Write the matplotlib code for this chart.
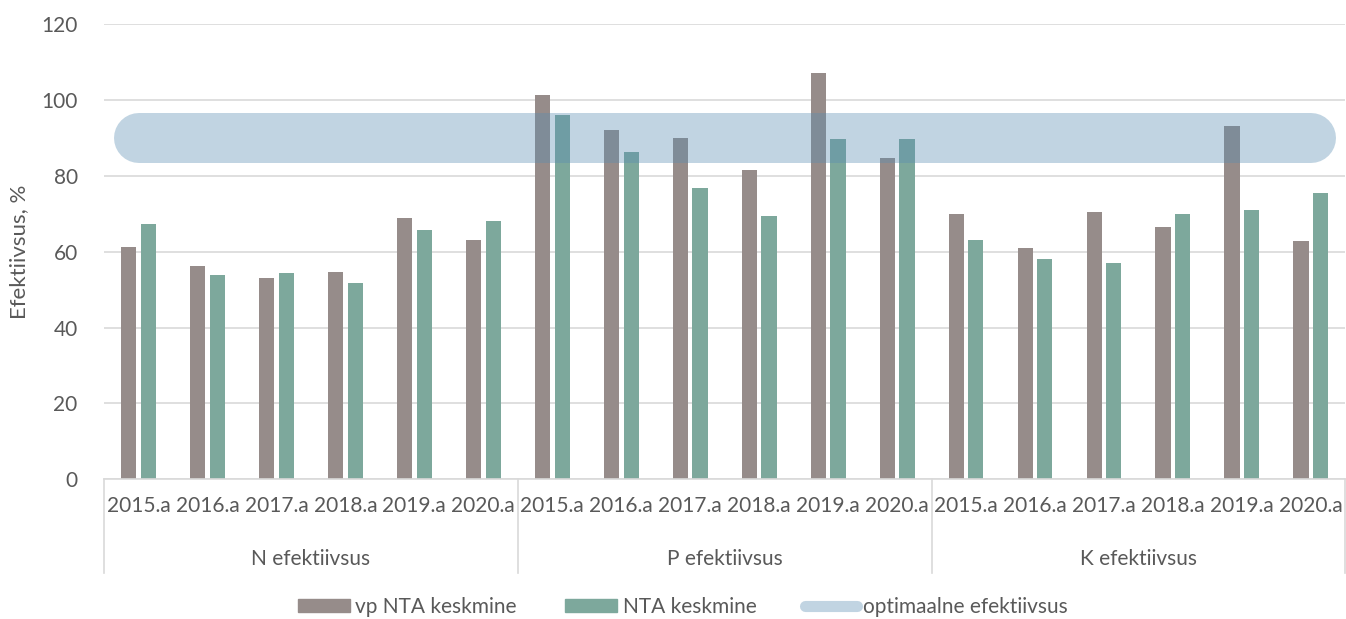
import numpy as np
import matplotlib
matplotlib.use('Agg')
import matplotlib.pyplot as plt
from matplotlib.lines import Line2D
from matplotlib.patches import Patch

plt.rcParams['font.family'] = ['Lato', 'DejaVu Sans']

years = ['2015.a', '2016.a', '2017.a', '2018.a', '2019.a', '2020.a']
groups = ['N efektiivsus', 'P efektiivsus', 'K efektiivsus']

vp_nta = [61.3, 56.2, 53.1, 54.6, 69.0, 63.1,
          101.4, 92.0, 90.0, 81.6, 107.2, 84.7,
          70.0, 61.0, 70.4, 66.4, 93.2, 62.9]
nta = [67.4, 53.9, 54.5, 51.8, 65.8, 68.0,
       96.0, 86.3, 76.9, 69.5, 89.8, 89.7,
       63.0, 58.1, 57.0, 69.9, 71.1, 75.5]
optimum = 90

text_col = '#595959'
grid_col = '#D9D9D9'
gray = '#968C8A'
green = '#7DA89C'
band = '#598CB2'
fs = 15

fig = plt.figure(figsize=(13.46, 6.19), dpi=100)
ax = fig.add_axes([0.0773, 0.2257, 0.9222, 0.7353])

n = len(vp_nta)
x = np.arange(n)
w = 0.22
ax.bar(x - 0.143, vp_nta, w, color=gray, zorder=2)
ax.bar(x + 0.143, nta, w, color=green, zorder=2)

# optimal efficiency zone as a thick rounded line
ax.plot([x[0], x[-1]], [optimum, optimum], color=band, alpha=0.37,
        lw=36, solid_capstyle='round', zorder=3)

ax.set_xlim(-0.5, n - 0.5)
ax.set_ylim(0, 120)
ax.set_yticks(range(0, 121, 20))
ax.yaxis.grid(True, color=grid_col, lw=1.2, zorder=0)
ax.set_axisbelow(True)
for s in ['top', 'right', 'left']:
    ax.spines[s].set_visible(False)
ax.spines['bottom'].set_color(grid_col)
ax.spines['bottom'].set_linewidth(1.2)

ax.set_xticks(x)
ax.set_xticklabels(years * len(groups))
ax.tick_params(axis='x', length=0, pad=12, labelsize=fs, labelcolor=text_col)
ax.tick_params(axis='y', length=0, pad=19, labelsize=fs, labelcolor=text_col)
ax.set_ylabel('Efektiivsus, %', fontsize=16, color=text_col)
ax.yaxis.set_label_coords(-0.060, 0.5)

# group labels and separators below the axis
trans = ax.get_xaxis_transform()
for i, g in enumerate(groups):
    ax.text(i * 6 + 2.5, -0.175, g, transform=trans, ha='center', va='center',
            fontsize=fs, color=text_col)
for b in [-0.5, 5.5, 11.5, 17.5]:
    ax.add_line(Line2D([b, b], [0, -0.206], transform=trans, color=grid_col,
                       lw=1.2, clip_on=False))

handles = [Patch(color=gray), Patch(color=green),
           Line2D([], [], color=band, alpha=0.37, lw=8, solid_capstyle='round')]
labels = ['vp NTA keskmine', 'NTA keskmine', 'optimaalne efektiivsus']
fig.legend(handles, labels, loc='center', bbox_to_anchor=(0.507, 0.019),
           ncol=3, frameon=False, fontsize=fs, handlelength=2.5,
           handleheight=0.58, handletextpad=0.25, columnspacing=2.35,
           labelcolor=text_col)

fig.savefig('out.png', dpi=100)
